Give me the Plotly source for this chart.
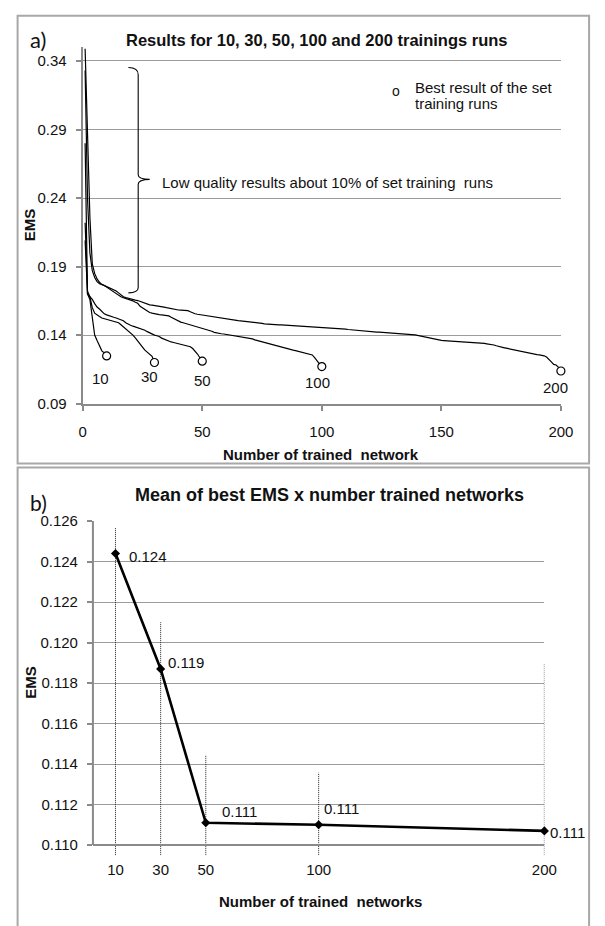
import plotly.graph_objects as go

# ---------------------------------------------------------------- data
run_sizes = [10, 30, 50, 100, 200]

# EMS of every trained network, sorted from worst to best, for each set size
ems_10 = [0.209, 0.170, 0.166, 0.152, 0.140, 0.136, 0.1325, 0.1285, 0.127, 0.1248]

ems_30 = [0.222, 0.172, 0.168, 0.160, 0.156, 0.1545, 0.1535, 0.1525, 0.152, 0.1515,
          0.151, 0.1508, 0.1505, 0.150, 0.149, 0.1475, 0.146, 0.1445, 0.143, 0.1418,
          0.140, 0.138, 0.1355, 0.133, 0.1312, 0.129, 0.1275, 0.1258, 0.1245, 0.120]

ems_50 = [0.280, 0.170, 0.168, 0.166, 0.163, 0.1605, 0.159, 0.1575, 0.1555, 0.1548,
          0.154, 0.1535, 0.153, 0.1525, 0.152, 0.1512, 0.1505, 0.149, 0.1478, 0.1472,
          0.1465, 0.146, 0.1453, 0.1447, 0.1441, 0.1435, 0.1425, 0.1415, 0.1408, 0.140,
          0.1395, 0.139, 0.1378, 0.137, 0.1362, 0.1357, 0.135, 0.1346, 0.1342, 0.1338,
          0.1335, 0.1331, 0.1327, 0.1322, 0.1315, 0.1302, 0.1285, 0.1262, 0.1235, 0.121]

ems_100 = [0.333, 0.240, 0.200, 0.187, 0.182, 0.179, 0.1775, 0.177, 0.1762, 0.175,
           0.1738, 0.1727, 0.1716, 0.170, 0.169, 0.168, 0.1673, 0.1668, 0.1663, 0.1658,
           0.165, 0.164, 0.1632, 0.161, 0.1598, 0.159, 0.1575, 0.1565, 0.156, 0.1555,
           0.1553, 0.155, 0.1548, 0.1545, 0.1542, 0.154, 0.153, 0.152, 0.151, 0.150,
           0.1495, 0.149, 0.1485, 0.148, 0.1475, 0.147, 0.1465, 0.146, 0.1455, 0.145,
           0.1447, 0.1443, 0.1435, 0.1428, 0.142, 0.1415, 0.1412, 0.141, 0.1408, 0.1405,
           0.1402, 0.140, 0.1398, 0.1395, 0.1392, 0.139, 0.1387, 0.1384, 0.1382, 0.1378,
           0.1372, 0.1365, 0.136, 0.1355, 0.135, 0.1346, 0.1342, 0.1338, 0.1333, 0.1328,
           0.1322, 0.1316, 0.131, 0.1305, 0.1302, 0.1299, 0.1295, 0.129, 0.1287, 0.1283,
           0.1278, 0.1272, 0.1269, 0.1262, 0.1258, 0.1255, 0.1235, 0.121, 0.119, 0.117]

ems_200 = [0.349, 0.290, 0.226, 0.192, 0.185, 0.181, 0.1785, 0.177, 0.1762, 0.1755,
           0.1748, 0.1742, 0.1735, 0.1722, 0.1708, 0.1693, 0.168, 0.1674, 0.1668, 0.1663,
           0.1659, 0.1655, 0.1652, 0.1646, 0.1638, 0.1631, 0.1625, 0.1621, 0.1619, 0.1617,
           0.1615, 0.1612, 0.1608, 0.1604, 0.1600, 0.1596, 0.1592, 0.1588, 0.1585, 0.1583,
           0.1582, 0.1581, 0.1580, 0.1578, 0.1570, 0.1562, 0.1556, 0.1552, 0.1549, 0.1546,
           0.1543, 0.1540, 0.1537, 0.1534, 0.1531, 0.1528, 0.1525, 0.1522, 0.1519, 0.1516,
           0.1514, 0.1512, 0.1510, 0.1508, 0.1506, 0.1504, 0.1502, 0.1500, 0.1499, 0.1498,
           0.1497, 0.1496, 0.1493, 0.1489, 0.1485, 0.1482, 0.1480, 0.1479, 0.1478, 0.1477,
           0.1476, 0.1475, 0.1474, 0.1473, 0.1472, 0.1471, 0.1470, 0.1469, 0.1467, 0.1465,
           0.1463, 0.1462, 0.1461, 0.1460, 0.1459, 0.1458, 0.1457, 0.1456, 0.1455, 0.1454,
           0.1453, 0.1452, 0.1451, 0.1450, 0.1449, 0.1448, 0.1447, 0.1446, 0.1445, 0.1443,
           0.1441, 0.1439, 0.1437, 0.1435, 0.1433, 0.1432, 0.1431, 0.1430, 0.1428, 0.1426,
           0.1424, 0.1423, 0.1422, 0.1421, 0.1420, 0.1419, 0.1418, 0.1417, 0.1416, 0.1415,
           0.1414, 0.1413, 0.1412, 0.1411, 0.1410, 0.1409, 0.1407, 0.1405, 0.1402, 0.1398,
           0.1394, 0.1391, 0.1388, 0.1384, 0.1379, 0.1373, 0.1368, 0.1364, 0.1362, 0.1361,
           0.1360, 0.1359, 0.1358, 0.1357, 0.1356, 0.1355, 0.1354, 0.1353, 0.1352, 0.1351,
           0.1350, 0.1349, 0.1348, 0.1347, 0.1345, 0.1343, 0.1341, 0.1339, 0.1336, 0.1334,
           0.1332, 0.1328, 0.1322, 0.1316, 0.1312, 0.1309, 0.1305, 0.1301, 0.1298, 0.1294,
           0.1290, 0.1286, 0.1282, 0.1278, 0.1274, 0.1270, 0.1266, 0.1263, 0.1260, 0.1257,
           0.1255, 0.1252, 0.1249, 0.1240, 0.1225, 0.1205, 0.1186, 0.1182, 0.1165, 0.1138]

ems_runs = [ems_10, ems_30, ems_50, ems_100, ems_200]

# mean of the best EMS for each set size, and the spread of the best results
mean_best_ems = [0.1244, 0.1187, 0.1111, 0.1110, 0.1107]
best_ems_high = [0.12565, 0.1210, 0.11445, 0.11357, 0.11896]
best_ems_low = [0.1095, 0.1095, 0.1095, 0.1095, 0.1095]

top_xticks = [0, 50, 100, 150, 200]
top_yticks = [0.09, 0.14, 0.19, 0.24, 0.29, 0.34]
bottom_yticks = [0.110, 0.112, 0.114, 0.116, 0.118, 0.120, 0.122, 0.124, 0.126]

# ---------------------------------------------------------------- styling
W, H = 605, 926
FONT = "Liberation Sans, Arial, sans-serif"
TXT = "#111111"
GRID = "#9c9c9c"
AXIS = "#8a8a8a"
FRAME = "#a8a8a8"


def fx(px):
    return px / W


def fy(py):
    return 1 - py / H


fig = go.Figure()

# ---------------------------------------------------------------- panel a
for n, vals in zip(run_sizes, ems_runs):
    fig.add_trace(go.Scatter(
        x=list(range(1, n + 1)), y=vals, mode="lines",
        line=dict(color="black", width=1.2),
        xaxis="x", yaxis="y", showlegend=False, hoverinfo="skip"))

# best result of each set
fig.add_trace(go.Scatter(
    x=run_sizes, y=[v[-1] for v in ems_runs], mode="markers",
    marker=dict(symbol="circle", size=8, color="white",
                line=dict(color="black", width=1.2)),
    cliponaxis=False, xaxis="x", yaxis="y", showlegend=False, hoverinfo="skip"))

# labels under each best result (pixel offsets)
label_shift = [(-6, -23), (-5, -14), (0, -19), (-4, -16), (-5, -16)]
annotations = []
for n, vals, (dx, dy) in zip(run_sizes, ems_runs, label_shift):
    annotations.append(dict(
        x=n, y=vals[-1], xref="x", yref="y", text=str(n), showarrow=False,
        xshift=dx, yshift=dy, font=dict(family=FONT, size=15, color=TXT)))

# ---------------------------------------------------------------- panel b
for x, lo, hi in zip(run_sizes, best_ems_low, best_ems_high):
    fig.add_trace(go.Scatter(
        x=[x, x], y=[lo, hi], mode="lines",
        line=dict(color="#222222", width=1, dash="1px,1px"),
        xaxis="x2", yaxis="y2", showlegend=False, hoverinfo="skip"))

fig.add_trace(go.Scatter(
    x=run_sizes, y=mean_best_ems, mode="lines+markers",
    line=dict(color="black", width=2.6),
    marker=dict(symbol="diamond", size=7, color="black"),
    cliponaxis=False, xaxis="x2", yaxis="y2", showlegend=False, hoverinfo="skip"))

value_shift = [(12, -3), (5, 6), (14, 11), (3, 16), (4, -2)]
for x, v, (dx, dy) in zip(run_sizes, mean_best_ems, value_shift):
    annotations.append(dict(
        x=x, y=v, xref="x2", yref="y2", text=f"{v:.3f}", showarrow=False,
        xanchor="left", yanchor="middle", xshift=dx, yshift=dy,
        font=dict(family=FONT, size=15, color=TXT)))

# ---------------------------------------------------------------- titles and texts
def paper_text(text, px, py, size, bold=False, angle=0, xanchor="center",
               family=FONT):
    if bold:
        text = f"<b>{text}</b>"
    return dict(x=fx(px), y=fy(py), xref="paper", yref="paper", text=text,
                showarrow=False, textangle=angle, xanchor=xanchor,
                yanchor="middle", font=dict(family=family, size=size, color=TXT))


annotations += [
    paper_text("a)", 35, 31, 22, family="Lato, Open Sans, sans-serif"),
    paper_text("Results for 10, 30, 50, 100 and 200 trainings runs", 322, 32, 16.5, bold=True),
    paper_text("EMS", 27, 220, 15, bold=True, angle=-90),
    paper_text("Number of trained\u00a0 network", 326, 454, 15, bold=True),
    paper_text("Low quality results about 10% of set training\u00a0 runs", 160, 177, 15,
               xanchor="left"),
    paper_text("o", 403, 84, 14),
    paper_text("Best result of the set", 421, 80, 15, xanchor="left"),
    paper_text("training runs", 421, 96, 15, xanchor="left"),
    paper_text("b)", 35, 503, 21, family="Lato, Open Sans, sans-serif"),
    paper_text("Mean of best EMS x number trained networks", 335, 495, 18, bold=True),
    paper_text("EMS", 27, 686, 15, bold=True, angle=-90),
    paper_text("Number of trained\u00a0 networks", 326, 909, 15, bold=True),
]

# ---------------------------------------------------------------- shapes
shapes = [
    # panel frames
    dict(type="rect", xref="paper", yref="paper", x0=fx(14), x1=fx(602),
         y0=fy(463), y1=fy(7), line=dict(color=FRAME, width=2)),
    dict(type="rect", xref="paper", yref="paper", x0=fx(14), x1=fx(602),
         y0=fy(1000), y1=fy(467), line=dict(color=FRAME, width=2)),
    # curly brace spanning the low quality results
    dict(type="path", xref="x", yref="y", layer="above",
         path=("M 19.1,0.3352 Q 23.2,0.3352 23.2,0.3300 L 23.2,0.2570 "
               "Q 23.2,0.2538 28.0,0.2536 Q 23.2,0.2534 23.2,0.2500 "
               "L 23.2,0.1745 Q 23.2,0.1710 19.1,0.1708"),
         line=dict(color="black", width=1.1)),
    # axis lines of panel b
    dict(type="line", xref="x2 domain", yref="y2", x0=0, x1=0, y0=0.110, y1=0.126,
         line=dict(color=AXIS, width=2)),
    dict(type="line", xref="x2", yref="y2", x0=0, x1=200, y0=0.110, y1=0.110,
         line=dict(color=AXIS, width=2)),
]

axis_font = dict(family=FONT, size=15, color=TXT)

fig.update_layout(
    width=W, height=H,
    margin=dict(l=0, r=0, t=0, b=0),
    paper_bgcolor="white", plot_bgcolor="white",
    showlegend=False,
    annotations=annotations,
    shapes=shapes,
    xaxis=dict(domain=[fx(81), fx(573)], range=[0, 200], tickvals=top_xticks,
               ticks="outside", ticklen=5, tickcolor=AXIS, tickwidth=1.5,
               showline=True, linecolor=AXIS, linewidth=2, showgrid=False,
               zeroline=False, tickfont=axis_font, ticklabelstandoff=8,
               anchor="y", fixedrange=True),
    yaxis=dict(domain=[fy(402), fy(39)], range=[0.09, 0.35], tickvals=top_yticks,
               tickformat=".2f", ticks="outside", ticklen=5, tickcolor=AXIS,
               tickwidth=1.5, showline=True, linecolor=AXIS, linewidth=2,
               showgrid=True, gridcolor=GRID, gridwidth=1.2, zeroline=False,
               tickfont=axis_font, ticklabelstandoff=6, anchor="x", fixedrange=True),
    xaxis2=dict(domain=[fx(91.5), fx(556)], range=[0, 200], tickvals=run_sizes,
                ticks="", showline=False, showgrid=False, zeroline=False,
                tickfont=axis_font, ticklabelstandoff=4, anchor="y2", fixedrange=True),
    yaxis2=dict(domain=[fy(862), fy(521.7)], range=[0.1095, 0.126],
                tickvals=bottom_yticks, tickformat=".3f", ticks="outside", ticklen=5,
                tickcolor=AXIS, tickwidth=1.5, showline=False, showgrid=True,
                gridcolor=GRID, gridwidth=1.2, zeroline=False, tickfont=axis_font,
                ticklabelstandoff=6, anchor="x2", fixedrange=True),
)

# keep the figure flush with the page edges
fig.write_html("out.html",
               post_script="document.body.style.margin='0';"
                           "document.body.style.overflow='hidden';")
